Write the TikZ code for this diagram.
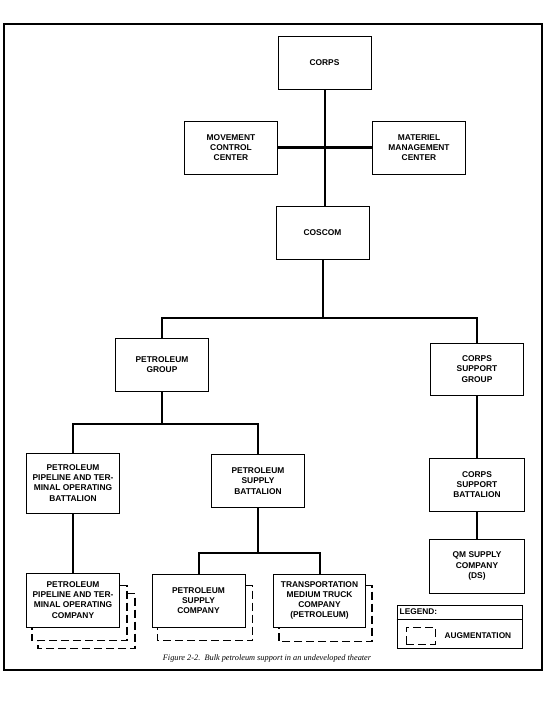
\documentclass[tikz,border=0pt]{standalone}
\usepackage{fontspec}
\setmainfont{Liberation Serif}
\setsansfont{Liberation Sans}
\usepackage{tikz}
\usetikzlibrary{calc,positioning}

\begin{document}
\begin{tikzpicture}[x=1pt,y=-1pt,
  box/.style={draw,line width=1pt,fill=white,minimum width=93pt,minimum height=53pt,inner sep=1pt,
    align=center,font=\sffamily\bfseries\fontsize{8.4}{10.2}\selectfont},
  conn/.style={line width=2pt},
  aug/.style={line width=1.1pt,dash pattern=on 8pt off 4pt}]
\useasboundingbox (0,0) rectangle (550,707);
\draw[line width=2.2pt] (4,24) rectangle (542,670);

% top of the chart
\node[box] (corps) at (324.5,62.5) {CORPS};
\node[box] (mcc) at (231,147.5) {MOVEMENT\\CONTROL\\CENTER};
\node[box] (mmc) at (419,147.5) {MATERIEL\\MANAGEMENT\\CENTER};
\node[box] (coscom) at (322.5,232.5) {COSCOM};
\draw[conn] (corps.south) -- (corps.south |- coscom.north);
\draw[line width=2.4pt] (mcc.east) -- (mmc.west);

% groups
\node[box] (pgroup) at (162,365) {PETROLEUM\\GROUP};
\node[box,minimum height=52pt] (csgroup) at (477,369) {CORPS\\SUPPORT\\GROUP};
\draw[conn] (coscom.south) -- ++(0,58) coordinate (bus1);
\draw[conn] (pgroup.north) |- (bus1) -| (csgroup.north);

% battalions
\node[box,minimum height=60pt] (pptobn) at (73,483) {PETROLEUM\\PIPELINE AND TER-\\MINAL OPERATING\\BATTALION};
\node[box] (psbn) at (258,481) {PETROLEUM\\SUPPLY\\BATTALION};
\node[box,minimum width=95pt] (csbn) at (477,484.5) {CORPS\\SUPPORT\\BATTALION};
\draw[conn] (pgroup.south) -- ++(0,32) coordinate (bus2);
\draw[conn] (pptobn.north) |- (bus2) -| (psbn.north);
\draw[conn] (csgroup.south) -- (csbn.north);

% companies
\node[box,minimum width=95pt,minimum height=54pt] (qmco) at (477,566) {QM SUPPLY\\COMPANY\\(DS)};
\node[box,minimum height=54pt] (pptoco) at (73,600) {PETROLEUM\\PIPELINE AND TER-\\MINAL OPERATING\\COMPANY};
\node[box] (psco) at (198.5,600.5) {PETROLEUM\\SUPPLY\\COMPANY};
\node[box,minimum width=92pt] (tmtco) at (319.5,600.5) {TRANSPORTATION\\MEDIUM TRUCK\\COMPANY\\(PETROLEUM)};
\draw[conn] (csbn.south) -- (qmco.north);
\draw[conn] (pptobn.south) -- (pptoco.north);
\draw[conn] (psbn.south) -- ++(0,45) coordinate (bus3);
\draw[conn] (psco.north) |- (bus3) -| (tmtco.north);

% augmentation
\draw[aug] ([yshift=-13pt]pptoco.north east) -| ([xshift=7pt,yshift=-13pt]pptoco.south east) -| ([xshift=6pt]pptoco.south west);
\draw[aug] ([xshift=7pt,yshift=-21pt]pptoco.north east) -| ([xshift=15pt,yshift=-21pt]pptoco.south east) -| ([xshift=12pt,yshift=-13pt]pptoco.south west);
\draw[aug] ([yshift=-12pt]psco.north east) -| ([xshift=7pt,yshift=-13pt]psco.south east) -| ([xshift=6pt]psco.south west);
\draw[aug] ([yshift=-12pt]tmtco.north east) -| ([xshift=6pt,yshift=-14pt]tmtco.south east) -| ([xshift=6pt]tmtco.south west);

% legend
\node[draw,line width=1pt,minimum width=125pt,minimum height=43pt] (legend) at (459.5,627) {};
\draw[line width=1pt] ([yshift=-14pt]legend.north west) -- ([yshift=-14pt]legend.north east);
\node[anchor=west,inner sep=0pt,font=\sffamily\bfseries\fontsize{8.3}{10}\selectfont] (legtitle) at ([xshift=3pt,yshift=-7pt]legend.north west) {LEGEND:};
\node[draw,line width=0.9pt,dash pattern=on 8pt off 4pt,minimum width=29pt,minimum height=17pt,inner sep=0pt] (augkey) at (420.5,635.5) {};
\node[right=9pt of augkey,inner sep=0pt,font=\sffamily\bfseries\fontsize{8.3}{10}\selectfont] (augtext) {AUGMENTATION};

\node[font=\itshape\fontsize{8.3}{9}\selectfont] (caption) at (267,658) {Figure 2-2.\ \ Bulk petroleum support in an undeveloped theater};
\end{tikzpicture}
\end{document}
